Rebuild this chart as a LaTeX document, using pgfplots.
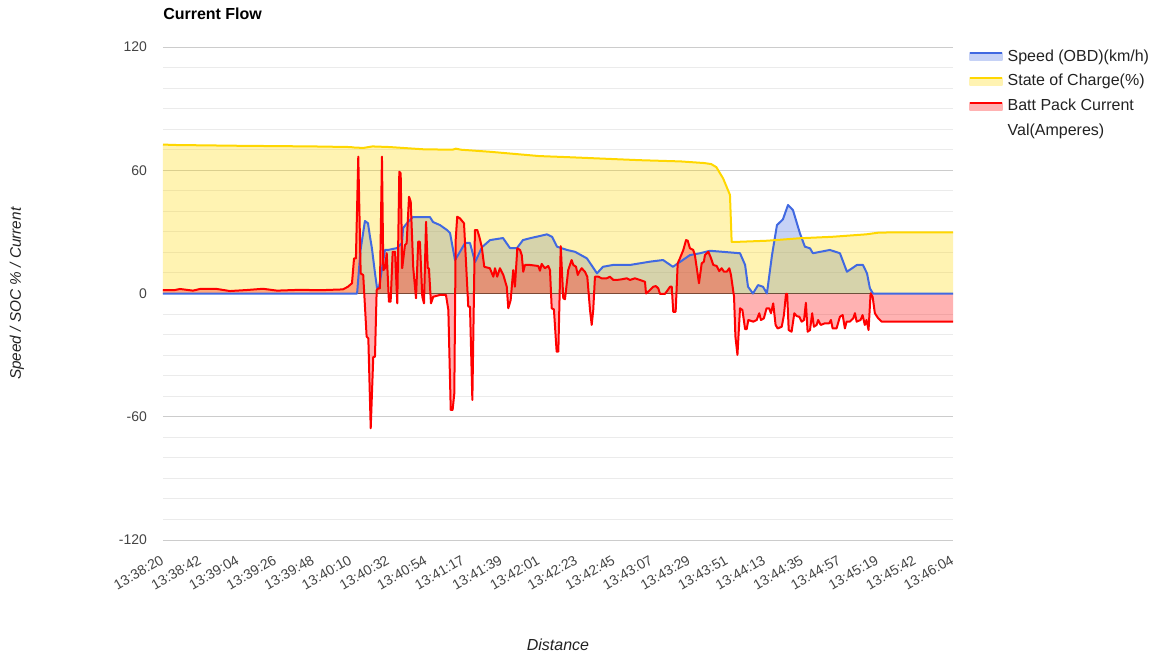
\documentclass[border=0pt]{standalone}
\usepackage{fontspec}
\setmainfont{Liberation Sans}
\usepackage{pgfplots}
\usepackage{pgfplotstable}
\pgfplotsset{compat=1.18}
\definecolor{spd}{HTML}{4169E1}
\definecolor{soc}{HTML}{FFD700}
\definecolor{cur}{HTML}{FF0000}
\definecolor{ticktxt}{HTML}{444444}
\definecolor{labtxt}{HTML}{222222}
\definecolor{majgrid}{HTML}{CCCCCC}
\definecolor{mingrid}{HTML}{EBEBEB}

\pgfplotstableread{
t v
0 0
114 0
116 21
118.6 35.3
120.4 34.2
121.6 27.5
122.7 22.1
124.5 10
125.7 2.7
126.9 3.2
130.4 21.2
132.1 21.2
137.4 22.1
140.4 24.6
141.0 31.9
143.9 34.8
146.8 37.2
156.8 37.2
158.6 34.8
162.7 33.3
166.8 30.9
168.6 29.4
171.5 16.3
173.3 18.7
177.4 24.6
180.3 24.6
183.3 15.3
187.4 22.6
192.1 26
199.7 27
203.8 22.1
207.9 22.1
211.4 26
215.5 26.9
221.4 28
225.5 28.8
228.5 27.6
231.4 22.8
237.3 21.2
242 20.3
249 17.1
254.9 9.8
258.4 13
264.3 13.9
274.3 13.9
286 15.5
293.7 16.3
299.5 13
309.5 18.7
315.4 19.6
321.3 20.8
338.9 19.6
341.9 13.9
343.6 3.3
346.5 0
349.5 4.1
352.4 3.3
354.7 0
357.7 18.7
360.6 33.3
364.1 36.1
367.1 43.1
370 40.6
374.1 29.3
377 22.8
380 22
381.7 19.6
391.7 21.2
397.6 19.6
401.7 10.6
407.6 13.9
411.1 13.9
413.5 9.8
415.2 2.5
417 0
464 0
}\speed

\pgfplotstableread{
t v
0 72.5
7 72.3
46 71.9
88 71.6
110 71.3
113 71.0
118 70.9
123 71.6
133 71.3
153 70.2
170 70.0
172 70.5
175 70.0
192 69.0
221 66.9
237 66.4
280 64.9
304 64.3
318 63.5
322 63.0
325 61.5
329 56
333 48
334 25.1
336 25.1
355 25.7
374 26.9
393 27.6
413 28.8
420 29.6
430 29.8
464 29.8
}\soc

\pgfplotstableread{
t v
0 1.7
7 1.7
10 2.2
17.6 1.4
21.7 2.2
31.7 2.2
39.3 1.2
49.3 1.7
58.7 2.3
67 1.4
80.5 1.8
92.2 1.6
105.7 2.0
108.6 3.3
111 5
112.2 17.1
113.3 17.1
114.7 66.6
116.1 9.8
117.6 9
119.6 -21
120.6 -21.8
122 -65.6
123.5 -30.8
124.5 -30.8
125.5 1.7
126.4 2.5
127.4 2.5
128.6 66.6
129.4 11.4
130.4 12.3
131.4 19.6
132.7 -4
133.7 -4
134.9 20.3
136.3 20.3
137.6 -4.8
138.8 59.3
139.6 58.5
140.5 12.3
142.1 23.6
143.1 24.4
144.5 47.1
145.5 44.7
147 12.3
148.6 -2.3
149.9 25.2
150.9 25.2
152.3 -1.6
153.3 -4.8
154.5 34.9
155.5 12.3
156.2 12.3
157.4 -4.8
158.7 -1.6
162.7 -0.7
166.2 -0.7
167.6 -8
169 -56.7
170.1 -56.7
171.1 -48.6
171.9 26
172.8 37.4
174.4 36.6
176.8 34.2
178 14.7
179.3 -6.4
180.3 -6.4
181.7 -51.8
183.2 30.9
184.6 30.9
185.8 27.6
187.2 22.8
188.7 13
192 12.3
194 8.2
195 12.3
196.3 8.2
197.9 12.3
199.9 9
201.9 3.3
202.8 -7.2
204.2 -3.2
205.7 11.4
206.7 3.3
208.1 22
209.7 21.2
210.7 18.7
211.6 10.6
212.6 13.9
215.5 13.9
220.4 13.4
221.4 11.1
222.4 14.4
224.3 12.3
226.3 13.4
227.3 11.4
228.3 -7.2
229.6 -7.7
231.2 -28.3
232.2 -28.3
233.6 23.1
235.1 -2.3
236.1 -2.8
238 11.4
240 16.3
241 13.9
242.6 13
243.6 9
244.5 10.6
245.9 12.3
247.8 10.6
249.2 8.2
250.8 -8
251.8 -15.3
252.7 -8
253.7 8.2
255.7 8.2
257.6 7.4
260.6 7.4
262.5 8.2
264.5 6.6
266.5 6.6
269.4 6.9
272.3 7.4
274.3 6.6
277.2 7.4
280.1 6.6
283.1 5.7
283.7 0
285 0.9
288 3.3
289.5 3.6
290.9 2.5
291.9 -0.2
294.8 -0.2
295.8 0.9
297.8 3.3
298.8 3.3
299.7 -8.9
301.1 -8.9
302.3 14.7
303.6 17.1
305.6 21.2
307.2 26
308.2 25.7
309.5 22
311.4 21.2
312.4 18.7
313.4 13
314.8 5
316.4 14.7
317.7 15.5
318.3 18.7
320.3 20.3
321.7 17.6
323.2 13.9
325.2 13.4
326.7 10.9
328.1 12.3
329.5 10.6
331.1 10.6
332.6 12.3
333.6 9
335.4 -1.6
336.2 -21
337.4 -29.9
338.9 -7.2
340.3 -8
341.9 -17.4
342.8 -17.4
343.8 -12.9
346.7 -13.7
348.7 -12.9
350.2 -9.6
351.2 -12.9
352.9 -12.1
354.5 -7.2
356 -7.2
357.1 -9.6
358.4 -4.8
359.8 -15.3
361 -17
363.4 -16.2
364.7 -10.5
365.9 -0.2
366.6 -0.2
367.5 -17.8
369.2 -18.6
370.8 -9.6
372.2 -11
373.7 -11.3
375.1 -13.7
376.5 -12.9
377.6 -4.5
378.6 -18.6
380 -17.8
381.3 -9.6
382.3 -16.2
383.9 -15.3
384.8 -12.9
386.3 -15.3
388.8 -14.5
391.3 -14.5
392.3 -12.9
393.3 -17
395.6 -17
397.6 -11.3
399.2 -10.5
400.5 -17
401.5 -13.7
403.4 -13.7
405.4 -12.1
406.4 -9.6
407.4 -13.7
409.7 -12.9
410.9 -10.5
412.2 -15.3
413.2 -12.9
414.4 -17.8
415.6 0.1
416.8 -1.6
418.1 -9.6
420.1 -12.1
422.1 -13.7
425.1 -13.7
464 -13.7
}\current

\begin{document}
\begin{tikzpicture}
\begin{axis}[
  scale only axis, width=592.5pt, height=369.75pt,
  xmin=0, xmax=464, ymin=-120, ymax=120,
  axis line style={draw=none},
  major tick length=0pt, minor tick length=0pt,
  ytick={-120,-60,0,60,120},
  minor ytick={-110,-100,-90,-80,-70,-50,-40,-30,-20,-10,10,20,30,40,50,70,80,90,100,110},
  ymajorgrids, yminorgrids,
  major grid style={majgrid, line width=0.75pt},
  minor grid style={mingrid, line width=0.75pt},
  /pgf/number format/assume math mode=true,
  yticklabel style={font=\fontsize{10.5}{12}\selectfont, text=ticktxt, xshift=-8.5pt},
  xtick={0,22.095,44.19,66.286,88.381,110.476,132.571,154.667,176.762,198.857,220.952,243.048,265.143,287.238,309.333,331.429,353.524,375.619,397.714,419.81,441.905,464},
  xticklabels={13:38:20,13:38:42,13:39:04,13:39:26,13:39:48,13:40:10,13:40:32,13:40:54,13:41:17,13:41:39,13:42:01,13:42:23,13:42:45,13:43:07,13:43:29,13:43:51,13:44:13,13:44:35,13:44:57,13:45:19,13:45:42,13:46:04},
  xticklabel style={font=\fontsize{10.5}{12}\selectfont, text=ticktxt, inner sep=0pt, yshift=-15pt, rotate=30, anchor=mid east},
  title={\textbf{Current Flow}},
  title style={at={(axis description cs:0,1)}, anchor=west, inner sep=0pt, yshift=19pt, font=\fontsize{12}{14}\selectfont},
  xlabel={\textit{Distance}},
  xlabel style={at={(axis description cs:0.5,-0.213)}, anchor=center, font=\fontsize{12}{14}\selectfont, text=labtxt},
  ylabel={\textit{Speed / SOC \% / Current}},
  ylabel style={at={(axis description cs:-0.1848,0.5)}, anchor=center, font=\fontsize{11.5}{14}\selectfont, text=labtxt},
  legend style={at={(axis description cs:1.0199,1.006)}, anchor=north west, draw=none, fill=none, inner sep=0pt, row sep=3.65pt, column sep=2.5pt,
    nodes={inner sep=1pt},
    font=\fontsize{12}{16.5}\selectfont, text=labtxt, cells={anchor=west}},
]
\coordinate (bbll) at (rel axis cs:-0.206329,-0.237323);
\coordinate (bbur) at (rel axis cs:1.255696,1.095335);
\draw[black!80, line width=0.75pt] (axis cs:0,0) -- (axis cs:464,0);
\addplot[fill=spd, fill opacity=0.3, draw=none, forget plot] table[x=t,y=v] {\speed} \closedcycle;
\addplot[fill=soc, fill opacity=0.3, draw=none, forget plot] table[x=t,y=v] {\soc} \closedcycle;
\addplot[fill=cur, fill opacity=0.3, draw=none, forget plot] table[x=t,y=v] {\current} \closedcycle;
\addplot[spd, line width=1.5pt, line join=round,
  legend image code/.code={\fill[spd!30] (0pt,-4.5pt) rectangle (24pt,1pt); \draw[spd, line width=1.5pt] (0pt,1pt) -- (24pt,1pt);}]
  table[x=t,y=v] {\speed};
\addlegendentry{\strut Speed (OBD)(km/h)}
\addplot[soc, line width=1.5pt, line join=round,
  legend image code/.code={\fill[soc!30] (0pt,-4.5pt) rectangle (24pt,1pt); \draw[soc, line width=1.5pt] (0pt,1pt) -- (24pt,1pt);}]
  table[x=t,y=v] {\soc};
\addlegendentry{\strut State of Charge(\%)}
\addplot[cur, line width=1.5pt, line join=round,
  legend image code/.code={\fill[cur!30] (0pt,-4.5pt) rectangle (24pt,1pt); \draw[cur, line width=1.5pt] (0pt,1pt) -- (24pt,1pt);}]
  table[x=t,y=v] {\current};
\addlegendentry{\strut Batt Pack Current}
\addlegendimage{empty legend}
\addlegendentry[yshift=2.25pt]{\strut Val(Amperes)}
\end{axis}
\pgfresetboundingbox
\path[use as bounding box] (bbll) rectangle (bbur);
\end{tikzpicture}
\end{document}
